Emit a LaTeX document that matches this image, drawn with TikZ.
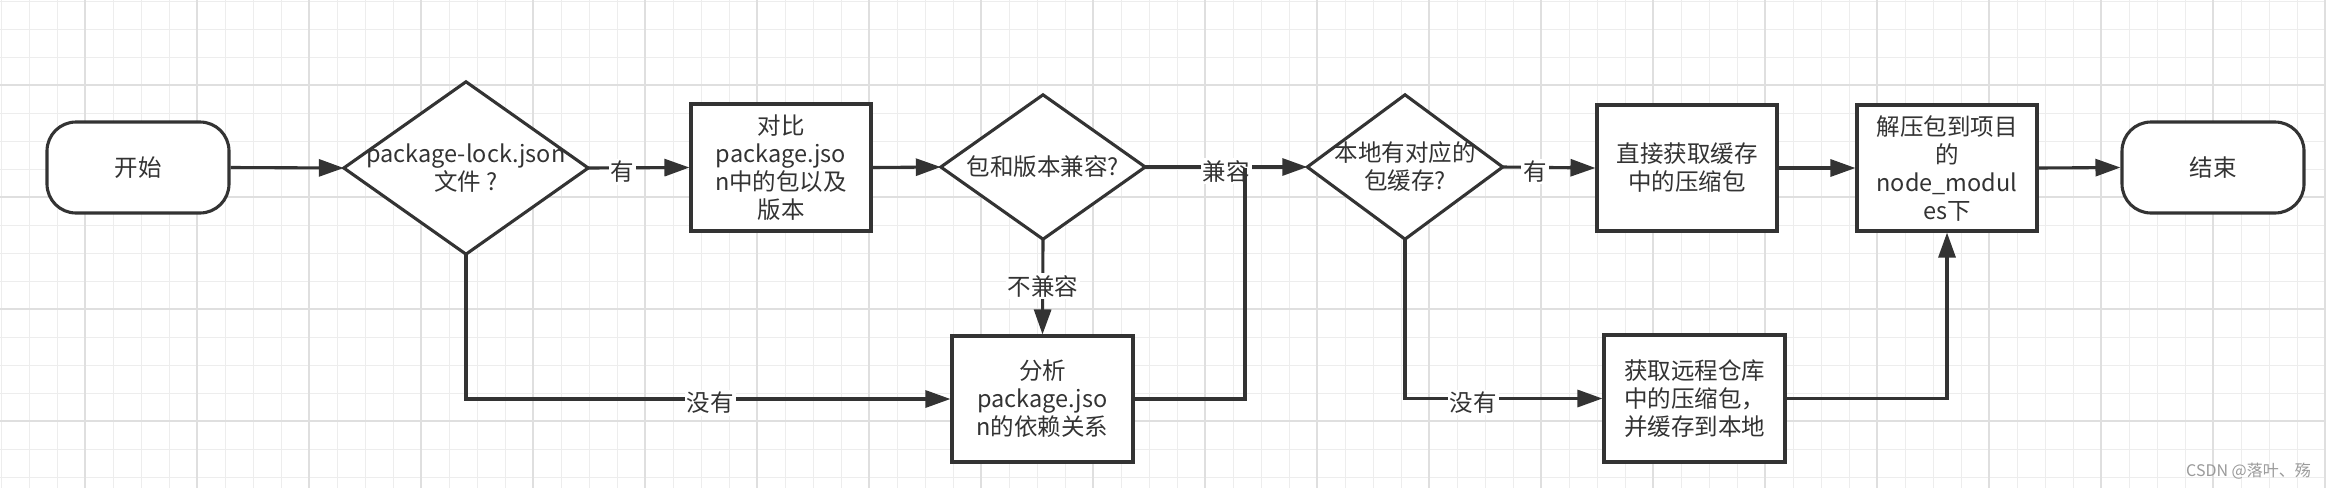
\documentclass[tikz,border=0pt]{standalone}
\usepackage{fontspec}
\setmainfont{Noto Sans CJK SC}
\usetikzlibrary{arrows.meta}
\definecolor{ink}{HTML}{333333}
\definecolor{gridminor}{HTML}{EDEDED}
\definecolor{gridmajor}{HTML}{DFDFDF}
\definecolor{wmcol}{HTML}{9A9A9A}
\pgfdeclarelayer{gridlayer}
\pgfdeclarelayer{shapelayer}
\pgfsetlayers{gridlayer,shapelayer,main}
\begin{document}
\begin{tikzpicture}[x=1pt,y=1pt,
  txt/.style={font=\fontsize{23.5}{28}\selectfont, text=ink, align=center},
  box/.style={txt, draw=ink, line width=3.1pt, fill=white, inner sep=0pt, minimum width=180pt, minimum height=126pt},
  term/.style={box, rounded corners=29pt, minimum width=182pt, minimum height=91pt},
  dmd/.style={txt, inner sep=0pt},
  dshape/.style={draw=ink, line width=3.1pt, fill=white, line join=miter},
  conn/.style={draw=ink, line width=3.1pt},
  arr/.style={conn, -{Triangle[length=25pt,width=17pt]}},
  lbl/.style={txt, fill=white, inner sep=2pt, yshift=-4pt},
  gminor/.style={draw=gridminor, line width=1pt},
  gmajor/.style={draw=gridmajor, line width=1.3pt}]

\useasboundingbox (0,0) rectangle (2326,-488);

\begin{pgfonlayer}{gridlayer}
  \fill[white] (0,0) rectangle (2326,-488);
  \foreach \k in {0,...,83} \draw[gminor] ({1+28*\k},0) -- ({1+28*\k},-488);
  \foreach \k in {0,...,17} \draw[gminor] (0,{-1-28*\k}) -- (2326,{-1-28*\k});
  \foreach \k in {0,...,20} \draw[gmajor] ({85+112*\k},0) -- ({85+112*\k},-488);
  \foreach \k in {0,...,3} \draw[gmajor] (0,{-85-112*\k}) -- (2326,{-85-112*\k});
\end{pgfonlayer}

% nodes
\node[term] (start) at (138,-167.5) {开始};
\node[dmd, minimum width=244pt, minimum height=172pt] (d1) at (466,-168) {package-lock.json\\文件 ?};
\node[box, minimum height=127pt] (b1) at (781,-167.5) {对比\\package.jso\\n中的包以及\\版本};
\node[dmd, minimum width=204pt, minimum height=144pt] (d2) at (1043,-167) {包和版本兼容?};
\node[dmd, minimum width=195pt, minimum height=144pt] (d3) at (1405,-167) {本地有对应的\\包缓存?};
\node[box] (b2) at (1687,-168) {直接获取缓存\\中的压缩包};
\node[box] (b3) at (1947,-168) {解压包到项目\\的\\node\_modul\\es下};
\node[term] (end) at (2213,-167.5) {结束};
\node[box, minimum width=181pt] (b4) at (1042.5,-399) {分析\\package.jso\\n的依赖关系};
\node[box, minimum width=181pt, minimum height=127pt] (b5) at (1694.5,-398.5) {获取远程仓库\\中的压缩包，\\并缓存到本地};
\coordinate (j1) at (1245,-168);

\begin{pgfonlayer}{shapelayer}
  \foreach \d in {d1,d2,d3}
    \draw[dshape] (\d.north) -- (\d.east) -- (\d.south) -- (\d.west) -- cycle;
\end{pgfonlayer}

% connectors
\draw[arr] (start.east) -- (d1.west);
\draw[arr] (d1.east) -- node[lbl, pos=0.34] (l1) {有} (b1.west);
\draw[arr] (b1.east) -- (d2.west);
\draw[arr] (d2.east) -- node[lbl, pos=0.5] (l2) {兼容} (d3.west);
\draw[arr] (d3.east) -- node[lbl, pos=0.35] (l3) {有} (b2.west);
\draw[arr] (b2.east) -- (b3.west);
\draw[arr] (b3.east) -- (end.west);
\draw[arr] (d2.south) -- node[lbl, pos=0.45] (l4) {不兼容} (b4.north);
\draw[arr] (d1.south) |- node[lbl, pos=0.752] (l5) {没有} (b4.west);
\draw[conn] (b4.east) -| (j1);
\draw[arr] (d3.south) |- node[lbl, pos=0.673] (l6) {没有} (b5.west);
\draw[arr] (b5.east) -| (b3.south);

\node[font=\fontsize{16}{18}\selectfont, text=wmcol, anchor=east, inner sep=0pt] (wm) at (2311,-471) {CSDN @落叶、殇};
\end{tikzpicture}
\end{document}
